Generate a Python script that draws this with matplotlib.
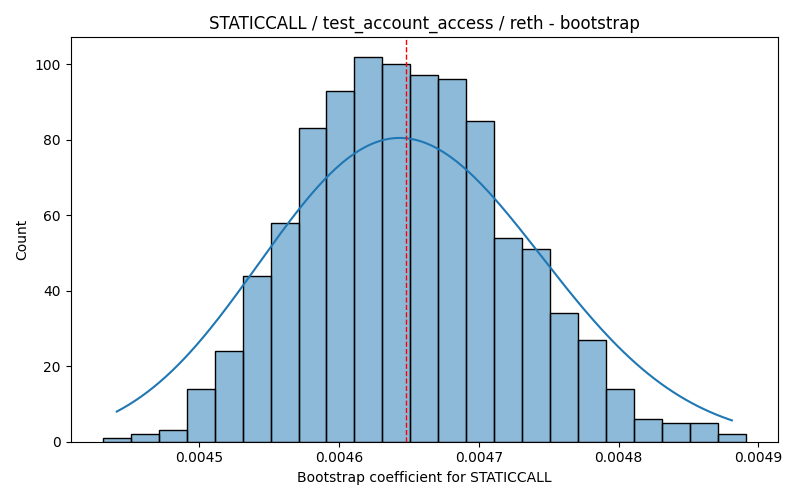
import numpy as np
import matplotlib
matplotlib.use("Agg")
import matplotlib.pyplot as plt
import seaborn as sns

# histogram
bin_start = 0.004431
bin_width = 0.00002
counts = [1, 2, 3, 14, 24, 44, 58, 83, 93, 102, 100, 97, 96, 85, 54, 51, 34, 27, 14, 6, 5, 5, 2]
point_estimate = 0.004648

n_bins = len(counts)
bin_end = bin_start + bin_width * n_bins
centers = bin_start + bin_width * (np.arange(n_bins) + 0.5)

fig, ax = plt.subplots(figsize=(8, 5), dpi=100)
sns.histplot(x=list(centers), weights=list(counts), bins=n_bins,
             binrange=(bin_start, bin_end), kde=True, ax=ax,
             kde_kws={"bw_adjust": 1.4})
ax.axvline(point_estimate, color="red", linestyle="--", linewidth=1)
ax.set_title("STATICCALL / test_account_access / reth - bootstrap")
ax.set_xlabel("Bootstrap coefficient for STATICCALL")
ax.set_ylabel("Count")
ax.set_xticks([0.0045, 0.0046, 0.0047, 0.0048, 0.0049])
fig.tight_layout()
fig.savefig("out.png")
